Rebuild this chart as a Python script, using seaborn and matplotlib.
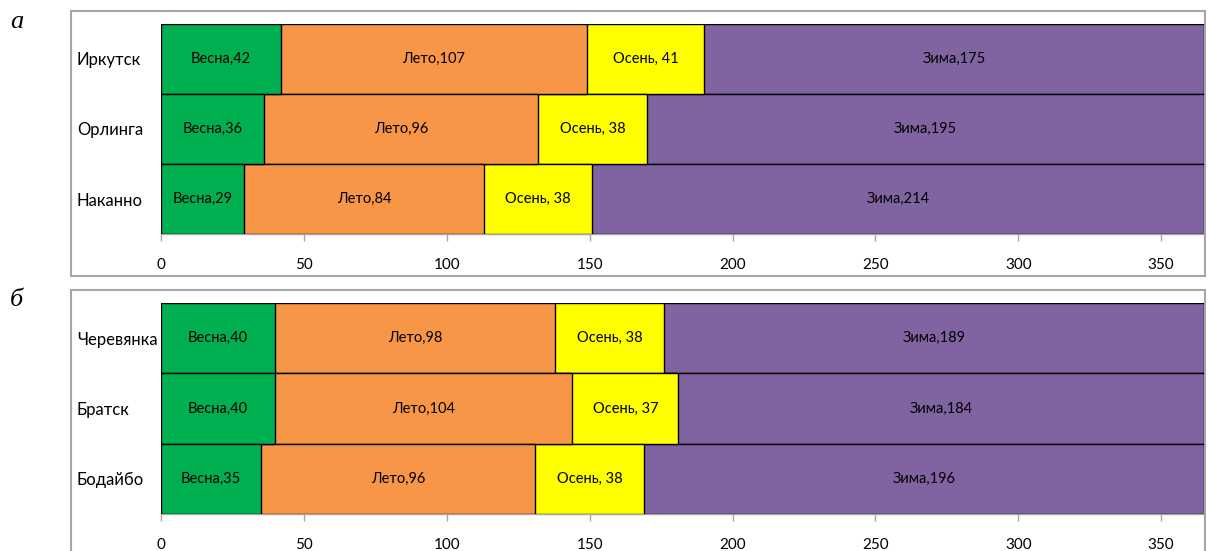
import numpy as np
import pandas as pd
import matplotlib
matplotlib.use("Agg")
import matplotlib.pyplot as plt
import seaborn as sns
from matplotlib.patches import Rectangle

sns.set_theme(style="white")
plt.rcParams["font.family"] = ["Lato", "DejaVu Sans"]

seasons = ["Весна", "Лето", "Осень", "Зима"]
label_fmt = ["{},{}", "{},{}", "{}, {}", "{},{}"]
colors = ["#00B050", "#F79646", "#FFFF00", "#8064A2"]

stations_a = ["Иркутск", "Орлинга", "Наканно"]
spring_a = [42, 36, 29]
summer_a = [107, 96, 84]
autumn_a = [41, 38, 38]
winter_a = [175, 195, 214]

stations_b = ["Черевянка", "Братск", "Бодайбо"]
spring_b = [40, 40, 35]
summer_b = [98, 104, 96]
autumn_b = [38, 37, 38]
winter_b = [189, 184, 196]

xticks = [0, 50, 100, 150, 200, 250, 300, 350]

W, H = 1208, 551
fig = plt.figure(figsize=(W / 100, H / 100), dpi=100)


def fx(px):
    return px / W


def fy(py):
    return 1 - py / H


def panel(top_px, bot_px, stations, series, letter, box_top, box_bot, letter_y):
    ax = fig.add_axes([fx(161), fy(bot_px), fx(1204) - fx(161), fy(top_px) - fy(bot_px)])
    df = pd.DataFrame({"station": stations})
    cum = np.zeros(len(stations))
    lefts = []
    for vals in series:
        lefts.append(cum.copy())
        cum = cum + np.array(vals)
    # stacked bars drawn from the widest cumulative total down
    for i in range(len(series) - 1, -1, -1):
        df["x"] = lefts[i] + np.array(series[i])
        sns.barplot(data=df, x="x", y="station", orient="h", color=colors[i],
                    saturation=1, width=1.0, edgecolor="black", linewidth=1.0,
                    ax=ax, zorder=2 + (len(series) - i))
    for i, vals in enumerate(series):
        for j, v in enumerate(vals):
            ax.text(lefts[i][j] + v / 2, j, label_fmt[i].format(seasons[i], v),
                    ha="center", va="center", fontsize=10.5, color="black", zorder=10)
    ax.set_xlim(0, 365)
    ax.set_ylim(2.5, -0.5)
    ax.set_xticks(xticks)
    ax.set_xticklabels([str(t) for t in xticks], fontsize=11, color="black")
    ax.set_xlabel("")
    ax.set_ylabel("")
    ax.tick_params(axis="y", length=0, labelsize=12, labelcolor="black")
    for lab in ax.get_yticklabels():
        lab.set_horizontalalignment("left")
    ax.yaxis.set_tick_params(pad=(161 - 77) * 0.72)
    ax.tick_params(axis="x", length=5, width=1, color="#A6A6A6", pad=12, direction="out")
    ax.xaxis.set_ticks_position("bottom")
    for s in ["top", "right", "left"]:
        ax.spines[s].set_visible(False)
    ax.spines["bottom"].set_color("#A6A6A6")
    ax.spines["bottom"].set_linewidth(1)
    ax.set_facecolor("none")
    box = Rectangle((fx(71), fy(box_bot)), fx(1205) - fx(71), fy(box_top) - fy(box_bot),
                    transform=fig.transFigure, fill=False, edgecolor="#A6A6A6",
                    linewidth=1.5, zorder=0)
    fig.add_artist(box)
    fig.text(fx(10), fy(letter_y), letter, fontsize=19, style="italic",
             family="Liberation Serif", ha="left", va="center", color="black")
    return ax


panel(24, 234, stations_a, [spring_a, summer_a, autumn_a, winter_a], "а", 11, 276, 22)
panel(303, 514, stations_b, [spring_b, summer_b, autumn_b, winter_b], "б", 290, 560, 300)

fig.savefig("out.png", dpi=100)
